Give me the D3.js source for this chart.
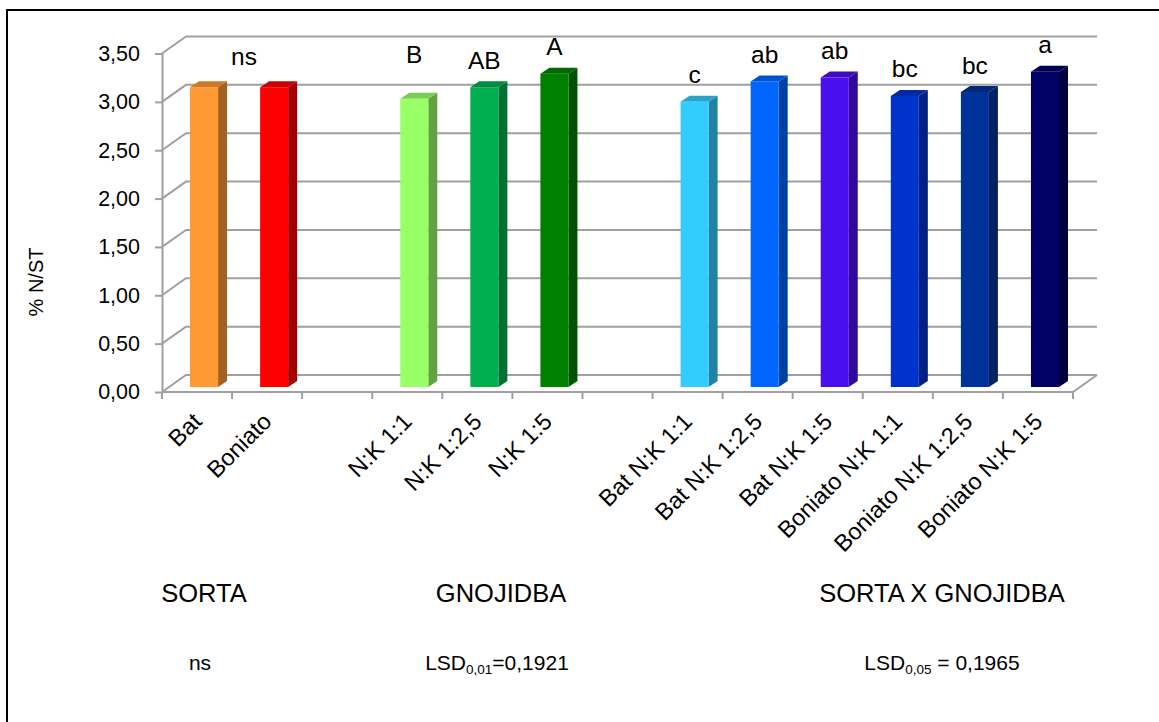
<!DOCTYPE html>
<html>
<head>
<meta charset="utf-8">
<script src="https://cdn.jsdelivr.net/npm/d3@7"></script>
<style>
  body { margin: 0; background: #fff; }
  svg { display: block; font-family: "Liberation Sans", Arial, sans-serif; }
</style>
</head>
<body>
<svg id="chart" width="1159" height="722"></svg>
<script>
// categories (empty strings are the gaps between the three groups)
const categories = ["Bat", "Boniato", "", "N:K 1:1", "N:K 1:2,5", "N:K 1:5", "",
    "Bat N:K 1:1", "Bat N:K 1:2,5", "Bat N:K 1:5",
    "Boniato N:K 1:1", "Boniato N:K 1:2,5", "Boniato N:K 1:5"];
const values = [3.10, 3.10, null, 2.98, 3.10, 3.24, null, 2.95, 3.16, 3.20, 3.01, 3.05, 3.26];
const letters = ["", "", "", "B", "AB", "A", "", "c", "ab", "ab", "bc", "bc", "a"];
const yTicks = [0, 0.5, 1, 1.5, 2, 2.5, 3, 3.5];
const groupNames = ["SORTA", "GNOJIDBA", "SORTA X GNOJIDBA"];
const groupStats = [
    { main: "ns" },
    { main: "LSD", sub: "0,01", rest: "=0,1921" },
    { main: "LSD", sub: "0,05", rest: " = 0,1965" }
];

const barColors = ["#ff9933", "#ff0000", null, "#99ff66", "#00b050", "#008000", null,
    "#33ccff", "#0066ff", "#4b0fef", "#0033cc", "#003399", "#000066"];

const svg = d3.select("#chart");
const num = d3.formatLocale({ decimal: ",", thousands: ".", grouping: [3], currency: ["", ""] }).format(".2f");

// frame
svg.append("path")
    .attr("d", "M7,722 V10 H1159")
    .attr("fill", "none")
    .attr("stroke", "#000")
    .attr("stroke-width", 2);

const x = d3.scaleBand().domain(d3.range(categories.length)).range([162, 1073]).padding(0);
const y = d3.scaleLinear().domain([0, 3.5]).range([392, 53.5]);
const bw = x.bandwidth();

// depth of the 3d box and of a bar
const DX = 24, DY = -17;
const bdx = 9, bdy = -6;
const gridColor = "#a0a0a0";

const grid = svg.append("g").attr("stroke", gridColor).attr("stroke-width", 2).attr("fill", "none");

// back wall lines + left wall diagonals
grid.selectAll(".back").data(yTicks).enter().append("path")
    .attr("d", t => `M162,${y(t)} L${162 + DX},${y(t) + DY} H${1073 + DX}`);

// floor front edge and right diagonal
grid.append("path")
    .attr("d", `M162,${y(0)} H1073 L${1073 + DX},${y(0) + DY}`);

// category boundary ticks
grid.selectAll(".xt").data(d3.range(categories.length + 1)).enter().append("line")
    .attr("x1", i => i < categories.length ? x(i) : x(i - 1) + bw)
    .attr("x2", i => i < categories.length ? x(i) : x(i - 1) + bw)
    .attr("y1", y(0))
    .attr("y2", y(0) + 7);

// y axis
const yAxis = d3.axisLeft(y).tickValues(yTicks).tickFormat(num).tickSize(7).tickSizeOuter(0).tickPadding(15);
const ya = svg.append("g").attr("transform", "translate(162,0)").call(yAxis);
ya.select(".domain").attr("stroke", gridColor).attr("stroke-width", 2);
ya.selectAll(".tick line").attr("stroke", gridColor).attr("stroke-width", 2);
ya.selectAll(".tick text")
    .attr("font-family", "Liberation Sans, Arial, sans-serif")
    .attr("font-size", 21.5)
    .attr("fill", "#000");

svg.append("text")
    .attr("transform", "translate(43,282) rotate(-90)")
    .attr("text-anchor", "middle")
    .attr("font-size", 20)
    .text("% N/ST");

// bars
const barData = values.map((v, i) => ({ i, v, c: barColors[i] })).filter(d => d.v !== null);
const front = d => {
    const x0 = x(d.i) + bw * 0.4, x1 = x(d.i) + bw * 0.8;
    const yt = y(d.v) - 5, yb = y(0) - 5;
    return { x0, x1, yt, yb };
};

const bars = svg.append("g").selectAll("g").data(barData).enter().append("g");

bars.append("polygon")
    .attr("points", d => {
        const f = front(d);
        return [[f.x1, f.yt], [f.x1 + bdx, f.yt + bdy], [f.x1 + bdx, f.yb + bdy], [f.x1, f.yb]].join(" ");
    })
    .attr("fill", d => { const c = d3.rgb(d.c); return d3.rgb(c.r * 0.64, c.g * 0.64, c.b * 0.64); });

bars.append("polygon")
    .attr("points", d => {
        const f = front(d);
        return [[f.x0, f.yt], [f.x0 + bdx, f.yt + bdy], [f.x1 + bdx, f.yt + bdy], [f.x1, f.yt]].join(" ");
    })
    .attr("fill", d => { const c = d3.rgb(d.c); return d3.rgb(c.r * 0.8, c.g * 0.8, c.b * 0.8); });

bars.append("rect")
    .attr("x", d => front(d).x0)
    .attr("y", d => front(d).yt)
    .attr("width", bw * 0.4)
    .attr("height", d => front(d).yb - front(d).yt)
    .attr("fill", d => d.c);

// significance letters
const lift = { 3: -17 };
svg.append("g").selectAll("text").data(barData.filter(d => letters[d.i])).enter().append("text")
    .attr("x", d => x(d.i) + bw * 0.6)
    .attr("y", d => front(d).yt - 18.5 + (lift[d.i] || 0))
    .attr("text-anchor", "middle")
    .attr("font-size", 24.5)
    .text(d => letters[d.i]);

// "ns" for the first group sits between its two bars
svg.append("text")
    .attr("x", x(0) + bw * 1.17)
    .attr("y", y(values[0]) - 5 - 22)
    .attr("text-anchor", "middle")
    .attr("font-size", 24.5)
    .text("ns");

// category labels
svg.append("g").selectAll("text").data(categories.map((c, i) => ({ c, i })).filter(d => d.c)).enter().append("text")
    .attr("transform", d => `translate(${x(d.i) + bw / 2 + 6},423) rotate(-45)`)
    .attr("text-anchor", "end")
    .attr("font-size", 23.5)
    .text(d => d.c);

// group captions and LSD row
const groupX = [204, 501, 942];
svg.append("g").selectAll("text").data(groupNames).enter().append("text")
    .attr("x", (d, i) => groupX[i])
    .attr("y", 602)
    .attr("text-anchor", "middle")
    .attr("font-size", 25.5)
    .text(d => d);

const statX = [200, 497, 942];
const st = svg.append("g").selectAll("text").data(groupStats).enter().append("text")
    .attr("x", (d, i) => statX[i])
    .attr("y", 670)
    .attr("text-anchor", "middle")
    .attr("font-size", 21);
st.append("tspan").text(d => d.main);
st.filter(d => d.sub).append("tspan").attr("font-size", 13.5).attr("dy", 4).text(d => d.sub);
st.filter(d => d.rest).append("tspan").attr("dy", -4).text(d => d.rest);
</script>
</body>
</html>
